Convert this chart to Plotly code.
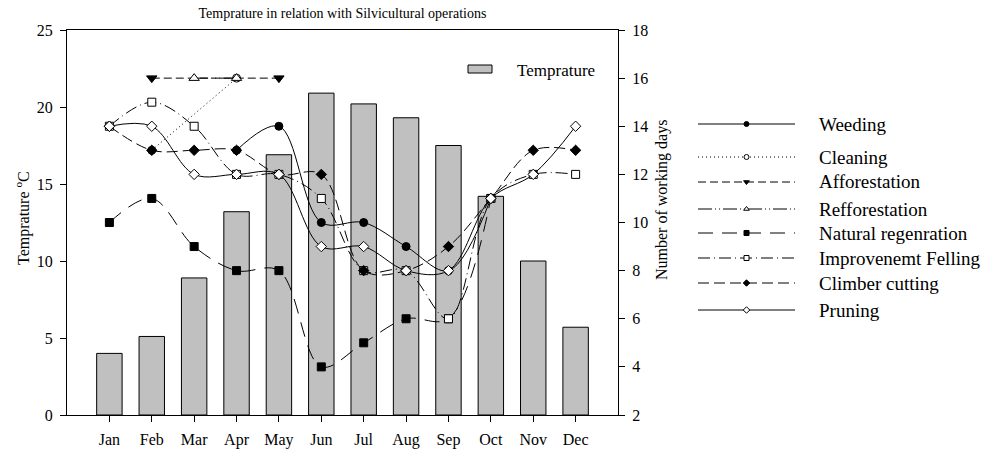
import plotly.graph_objects as go

# ---------------- data ----------------
months = ["Jan", "Feb", "Mar", "Apr", "May", "Jun", "Jul", "Aug", "Sep", "Oct", "Nov", "Dec"]
temperature = [4.0, 5.1, 8.9, 13.2, 16.9, 20.9, 20.2, 19.3, 17.5, 14.2, 10.0, 5.7]

weeding = [None, None, None, 13, 14, 10, 10, 9, 8, 11, None, None]
cleaning = [None, 13, None, 16, None, None, None, None, None, None, None, None]
afforestation = [None, 16, None, None, 16, None, None, None, None, None, None, None]
refforestation = [None, None, 16, 16, None, None, None, None, None, None, None, None]
natural_regeneration = [10, 11, 9, 8, 8, 4, 5, 6, 6, 11, None, None]
improvement_felling = [14, 15, 14, 12, 12, 11, 8, 8, 6, 11, 12, 12]
climber_cutting = [14, 13, 13, 13, 12, 12, 8, 8, 9, 11, 13, 13]
pruning = [14, 14, 12, 12, 12, 9, 9, 8, 8, 11, 12, 14]

left_ticks = [0, 5, 10, 15, 20, 25]
right_ticks = [2, 4, 6, 8, 10, 12, 14, 16, 18]

FONT = "Liberation Serif, Times New Roman, serif"
W, H = 984, 450
PL, PR, PT, PB = 67, 618, 30, 415  # plot area in px

# name, values, symbol, filled, dash, legend order
series = [
    ("Weeding", weeding, "circle", True, "solid", 0),
    ("Cleaning", cleaning, "circle", False, "1px,3px", 1),
    ("Afforestation", afforestation, "triangle-down", True, "8px,4px", 2),
    ("Refforestation", refforestation, "triangle-up", False, "14px,3px,1px,3px,1px,3px", 3),
    ("Natural regenration", natural_regeneration, "square", True, "15px,9px", 4),
    ("Improvenemt Felling", improvement_felling, "square", False, "12px,4px,1px,4px", 5),
    ("Climber cutting", climber_cutting, "diamond", True, "11px,5px", 6),
    ("Pruning", pruning, "diamond", False, "solid", 7),
]
draw_order = ["Cleaning", "Natural regenration", "Improvenemt Felling", "Climber cutting",
              "Weeding", "Afforestation", "Refforestation", "Pruning"]
legend_rows_px = [124, 157, 182, 209, 233, 258, 283, 310]

fig = go.Figure()

fig.add_trace(go.Bar(
    x=months, y=temperature, width=0.6, xaxis="x", yaxis="y",
    marker=dict(color="#c0c0c0", line=dict(color="black", width=1)),
    showlegend=False, name="Temprature"))

spec = {s[0]: s for s in series}
for nm in draw_order:
    name, vals, sym, filled, dash, _ = spec[nm]
    fig.add_trace(go.Scatter(
        x=months, y=vals, xaxis="x", yaxis="y2", name=name,
        mode="lines+markers", connectgaps=True,
        line=dict(color="black", width=1, dash=dash, shape="spline", smoothing=1.0),
        marker=dict(symbol=sym, size=9 if "triangle" in sym else 8,
                    color="black" if filled else "white",
                    line=dict(color="black", width=1)),
        showlegend=False))

# custom legend (right side)
for name, vals, sym, filled, dash, idx in series:
    ry = legend_rows_px[idx]
    fig.add_trace(go.Scatter(
        x=[0, 0.5, 1], y=[ry, ry, ry], xaxis="x3", yaxis="y3",
        mode="lines+markers", hoverinfo="skip",
        line=dict(color="black", width=1, dash=dash),
        marker=dict(symbol=sym, size=5, opacity=[0, 1, 0],
                    color="black" if filled else "white",
                    line=dict(color="black", width=1)),
        showlegend=False))
    fig.add_annotation(x=817 / W, y=1 - ry / H, xref="paper", yref="paper",
                       text=name, showarrow=False, xanchor="left", yanchor="middle",
                       font=dict(family=FONT, size=19, color="black"))

# in-plot temperature legend
fig.add_shape(type="rect", xref="paper", yref="paper",
              x0=468 / W, x1=492 / W, y0=1 - 73 / H, y1=1 - 65 / H,
              fillcolor="#c0c0c0", line=dict(color="black", width=1))
fig.add_annotation(x=515 / W, y=1 - 70 / H, xref="paper", yref="paper",
                   text="Temprature", showarrow=False, xanchor="left", yanchor="middle",
                   font=dict(family=FONT, size=17, color="black"))

# axis titles
fig.add_annotation(x=22 / W, y=1 - 218 / H, xref="paper", yref="paper",
                   text="Temprature <sup>o</sup>C", textangle=-90, showarrow=False,
                   xanchor="center", yanchor="middle",
                   font=dict(family=FONT, size=16, color="black"))
fig.add_annotation(x=662 / W, y=1 - 200 / H, xref="paper", yref="paper",
                   text="Number of working days", textangle=-90, showarrow=False,
                   xanchor="center", yanchor="middle",
                   font=dict(family=FONT, size=16, color="black"))

xdom = [PL / W, PR / W]
ydom = [1 - PB / H, 1 - PT / H]
tickfont = dict(family=FONT, size=16, color="black")

fig.update_layout(
    width=W, height=H,
    margin=dict(l=0, r=0, t=0, b=0, autoexpand=False),
    paper_bgcolor="white", plot_bgcolor="white",
    showlegend=False,
    title=dict(text="Temprature in relation with Silvicultural operations",
               x=(PL + PR) / 2 / W, xanchor="center", y=1 - 13 / H, yanchor="middle",
               xref="paper", yref="container",
               font=dict(family=FONT, size=14, color="black")),
    bargap=0.4,
    xaxis=dict(domain=xdom, type="category", categoryorder="array", categoryarray=months,
               range=[-1, 12], showline=True, linecolor="black", linewidth=1, mirror=True,
               ticks="outside", ticklen=6, tickcolor="black", showgrid=False, zeroline=False,
               tickfont=tickfont, ticklabelstandoff=4, anchor="y", automargin=False),
    yaxis=dict(domain=ydom, range=[0, 25], tickvals=left_ticks, showline=True, linecolor="black",
               linewidth=1, ticks="outside", ticklen=6, tickcolor="black", showgrid=False,
               zeroline=False, tickfont=tickfont, ticklabelstandoff=4, anchor="x", automargin=False),
    yaxis2=dict(range=[2, 18], tickvals=right_ticks, overlaying="y", side="right", anchor="x",
                showline=True, linecolor="black", linewidth=1, ticks="outside", ticklen=6,
                tickcolor="black", showgrid=False, zeroline=False, tickfont=tickfont,
                ticklabelstandoff=4, automargin=False),
    xaxis3=dict(domain=[698 / W, 795 / W], range=[0, 1], visible=False, anchor="y3", fixedrange=True),
    yaxis3=dict(domain=[0, 1], range=[H, 0], visible=False, anchor="x3", fixedrange=True),
)

fig.write_html("out.html", config={"displayModeBar": False},
               post_script="document.body.style.margin='0';document.body.style.overflow='hidden';")
